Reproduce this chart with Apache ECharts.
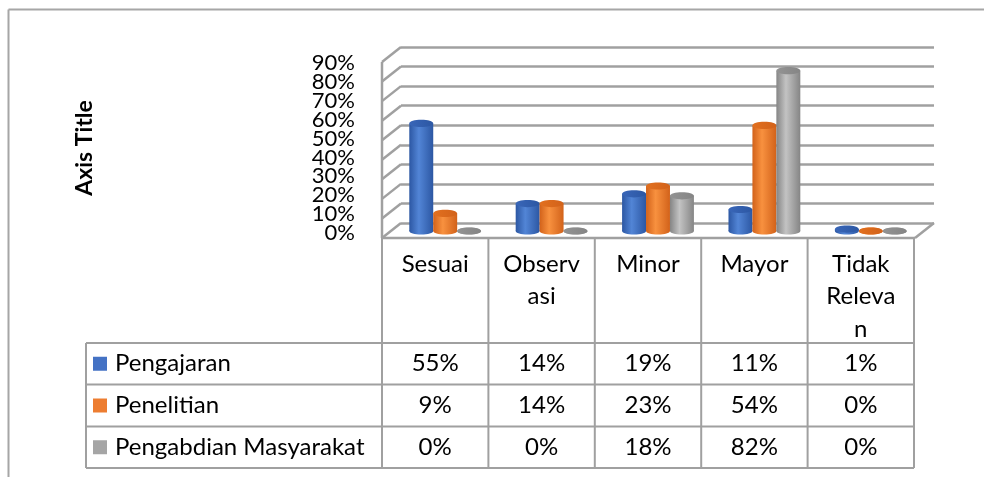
<!DOCTYPE html>
<html>
<head>
<meta charset="utf-8">
<script src="https://cdn.jsdelivr.net/npm/echarts@6/dist/echarts.min.js"></script>
<style>
  html, body { margin: 0; padding: 0; background: #fff; }
  #main { width: 984px; height: 477px; }
</style>
</head>
<body>
<div id="main"></div>
<script>
// data
var categories = ['Sesuai', 'Observasi', 'Minor', 'Mayor', 'Tidak Relevan'];
var headerLabels = ['Sesuai', 'Observ\nasi', 'Minor', 'Mayor', 'Tidak\nReleva\nn'];
var seriesNames = ['Pengajaran', 'Penelitian', 'Pengabdian Masyarakat'];
var pengajaran = [0.55, 0.14, 0.19, 0.11, 0.01];
var penelitian = [0.09, 0.14, 0.23, 0.54, 0];
var pengabdian = [0, 0, 0.18, 0.82, 0];
var yTicks = [0, 0.1, 0.2, 0.3, 0.4, 0.5, 0.6, 0.7, 0.8, 0.9];

var seriesData = [pengajaran, penelitian, pengabdian];
var colors = ['#4472C4', '#ED7D31', '#A5A5A5'];
// cylinder shading: [edge, middle, cap]
var shades = [
  ['#2C57A3', '#5285D6', '#3966B8'],
  ['#D2621A', '#F8913F', '#E2701F'],
  ['#858585', '#C3C3C3', '#939393']
];
var FONT = 'Lato';
var TSIZE = 24;
var LINE = '#A0A0A0';
var DX = -19, DY = 15;   // depth offset, back wall -> front edge

var dom = document.getElementById('main');
var myChart = echarts.init(dom);

function pct(v) { return Math.round(v * 100) + '%'; }

function cylinder(s) {
  return function (params, api) {
    var base = api.coord([api.value(0), 0]);
    var top = api.coord([api.value(0), api.value(1)]);
    var bw = api.size([1, 0])[0] * 0.225;
    var cx = base[0] + (s - 1) * bw;
    var rx = bw / 2, ry = 3.6;
    var grad = new echarts.graphic.LinearGradient(0, 0, 1, 0, [
      { offset: 0, color: shades[s][0] },
      { offset: 0.4, color: shades[s][1] },
      { offset: 1, color: shades[s][0] }
    ]);
    var cap = new echarts.graphic.LinearGradient(0, 0, 1, 0, [
      { offset: 0, color: shades[s][2] },
      { offset: 1, color: shades[s][0] }
    ]);
    return {
      type: 'group',
      children: [
        { type: 'ellipse', shape: { cx: cx, cy: base[1], rx: rx, ry: ry }, style: { fill: grad } },
        { type: 'rect', shape: { x: cx - rx, y: top[1], width: bw, height: base[1] - top[1] }, style: { fill: grad } },
        { type: 'ellipse', shape: { cx: cx, cy: top[1], rx: rx, ry: ry }, style: { fill: cap } }
      ]
    };
  };
}

function walls(params, api) {
  var v = api.value(0);
  var p = api.coord([0, v]);
  var kids = [
    { type: 'line', shape: { x1: p[0], y1: p[1], x2: p[0] + DX, y2: p[1] + DY }, style: { stroke: LINE, lineWidth: 2.5 } }
  ];
  if (v === 0) {
    var r = api.coord([1, 0]);
    var t = api.coord([0, yTicks[yTicks.length - 1]]);
    kids.push({ type: 'line', shape: { x1: p[0] + DX, y1: p[1] + DY, x2: r[0] + DX, y2: r[1] + DY }, style: { stroke: LINE, lineWidth: 2.5 } });
    kids.push({ type: 'line', shape: { x1: r[0], y1: r[1], x2: r[0] + DX, y2: r[1] + DY }, style: { stroke: LINE, lineWidth: 2.5 } });
    kids.push({ type: 'line', shape: { x1: t[0] + DX, y1: t[1] + DY, x2: p[0] + DX, y2: p[1] + DY }, style: { stroke: LINE, lineWidth: 2.5 } });
  }
  return { type: 'group', children: kids };
}

// y tick labels drawn on the front plane (packed tightly, as in the original)
function tickLabel(params, api) {
  var p = api.coord([0, api.value(0)]);
  var x = p[0] - api.size([1, 0])[0] / 2 - 27;
  return { type: 'text', style: { text: pct(api.value(0)), x: x, y: p[1], align: 'right', verticalAlign: 'middle',
    fontFamily: FONT, fontSize: 22, fill: '#000' } };
}

var option = {
  backgroundColor: '#fff',
  animation: false,
  grid: [
    { left: 382, right: 70, top: 63, height: 170 },   // front plane, labels
    { left: 392, right: 60, top: 55, height: 176 },   // bars (mid depth)
    { left: 401, right: 50, top: 47, height: 176 }    // back wall
  ],
  xAxis: [
    { gridIndex: 0, type: 'category', data: categories, show: false },
    { gridIndex: 1, type: 'category', data: categories, show: false },
    { gridIndex: 2, type: 'value', min: 0, max: 1, show: false }
  ],
  yAxis: [
    {
      gridIndex: 0, type: 'value', min: 0, max: 0.9, interval: 0.1,
      name: 'Axis Title', nameLocation: 'middle', nameGap: 286, nameRotate: 90,
      nameTextStyle: { fontFamily: FONT, fontSize: 23, fontWeight: 'bold', color: '#000' },
      axisLine: { show: false }, axisTick: { show: false }, splitLine: { show: false },
      axisLabel: { show: false }
    },
    { gridIndex: 1, type: 'value', min: 0, max: 0.9, interval: 0.1, show: false },
    {
      gridIndex: 2, type: 'value', min: 0, max: 0.9, interval: 0.1,
      axisLine: { show: false }, axisTick: { show: false }, axisLabel: { show: false },
      splitLine: { show: true, lineStyle: { color: LINE, width: 2.5 } }
    }
  ],
  series: [
    {
      type: 'custom', xAxisIndex: 2, yAxisIndex: 2, z: 1,
      renderItem: walls,
      data: yTicks.map(function (v) { return [v]; })
    },
    {
      type: 'custom', xAxisIndex: 0, yAxisIndex: 0, z: 2,
      renderItem: tickLabel,
      data: yTicks.map(function (v) { return [v]; })
    }
  ].concat(seriesData.map(function (d, s) {
    return {
      name: seriesNames[s], type: 'custom', xAxisIndex: 1, yAxisIndex: 1, z: 3,
      renderItem: cylinder(s),
      data: d.map(function (v, i) { return [i, v]; })
    };
  }))
};

if (option && typeof option === "object") {
  myChart.setOption(option, true);
}

// data table below the plot, aligned to the front category axis
var c0 = myChart.convertToPixel({ xAxisIndex: 0 }, 0);
var c1 = myChart.convertToPixel({ xAxisIndex: 0 }, 1);
var band = c1 - c0;
var colLeft = function (i) { return c0 + (i - 0.5) * band; };
var floorY = 238, tableLeft = 86;
var rowTops = [343, 384.5, 426.5, 468];
var g = [];
function hline(x1, x2, y) {
  g.push({ type: 'line', shape: { x1: x1, y1: y, x2: x2, y2: y }, style: { stroke: LINE, lineWidth: 2 } });
}
function vline(x, y1, y2) {
  g.push({ type: 'line', shape: { x1: x, y1: y1, x2: x, y2: y2 }, style: { stroke: LINE, lineWidth: 2 } });
}
for (var i = 0; i <= categories.length; i++) vline(colLeft(i), floorY, rowTops[3]);
rowTops.forEach(function (y) { hline(tableLeft, colLeft(categories.length), y); });
vline(tableLeft, rowTops[0], rowTops[3]);

headerLabels.forEach(function (t, i) {
  g.push({ type: 'text', style: { text: t, x: c0 + i * band, y: 248, align: 'center', verticalAlign: 'top',
    lineHeight: 32.5, fontFamily: FONT, fontSize: TSIZE, fill: '#000' } });
});
seriesData.forEach(function (d, s) {
  var cy = (rowTops[s] + rowTops[s + 1]) / 2;
  g.push({ type: 'rect', shape: { x: 93, y: cy - 7, width: 14, height: 14 }, style: { fill: colors[s] } });
  g.push({ type: 'text', style: { text: seriesNames[s], x: 115, y: cy, align: 'left', verticalAlign: 'middle',
    fontFamily: FONT, fontSize: TSIZE, fill: '#000' } });
  d.forEach(function (v, i) {
    g.push({ type: 'text', style: { text: pct(v), x: c0 + i * band, y: cy, align: 'center', verticalAlign: 'middle',
      fontFamily: FONT, fontSize: TSIZE, fill: '#000' } });
  });
});
// outer chart frame
g.push({ type: 'line', shape: { x1: 8.5, y1: 9.5, x2: 984, y2: 9.5 }, style: { stroke: '#A6A6A6', lineWidth: 2 } });
g.push({ type: 'line', shape: { x1: 8.5, y1: 9.5, x2: 8.5, y2: 477 }, style: { stroke: '#A6A6A6', lineWidth: 2 } });

myChart.setOption({ graphic: { elements: g } });

window.addEventListener('resize', function () {
  myChart.resize();
});
</script>
</body>
</html>
